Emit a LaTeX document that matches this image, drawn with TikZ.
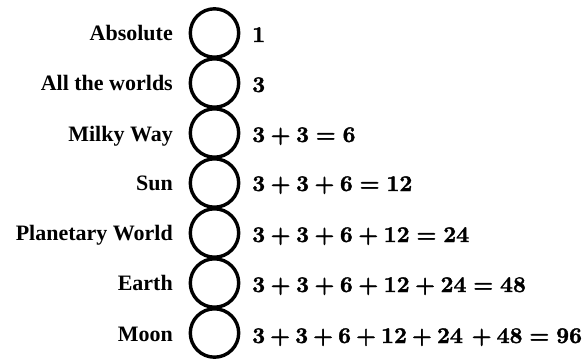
\documentclass[tikz,border=0pt]{standalone}
\usepackage{fontspec}
\setmainfont{Latin Modern Roman}
\newfontfamily\labelfont{Liberation Serif}
\newfontfamily\numfont{lmroman10-bold.otf}[FakeBold=1.6]
\newcommand{\opplus}[1][0.24em]{\hspace{#1}+\hspace{#1}}
\newcommand{\opeq}{\hspace{0.3em}=\hspace{0.3em}}
\begin{document}
\begin{tikzpicture}[x=1pt,y=-1pt,
  ring/.style={circle,draw=black,line width=3.4pt,minimum size=48.4pt,inner sep=0pt},
  lbl/.style={anchor=base east,inner sep=0pt,font=\fontsize{22}{26}\selectfont\labelfont\bfseries},
  num/.style={anchor=base west,inner sep=0pt,font=\numfont\fontsize{22.5}{26}\selectfont}]
\useasboundingbox (0,0) rectangle (587,360);
\foreach \i/\yy in {1/33,2/83,3/133,4/183,5/233,6/283,7/333}{
  \node[ring] (c\i) at (214.5,\yy) {};
}
\node[lbl] (l1) at (173,40.5) {Absolute};
\node[lbl] (l2) at (173,90.5) {All the worlds};
\node[lbl] (l3) at (173,141.5) {Milky Way};
\node[lbl] (l4) at (173,190.5) {Sun};
\node[lbl] (l5) at (173,240.5) {Planetary World};
\node[lbl] (l6) at (173,290.5) {Earth};
\node[lbl] (l7) at (173,341) {Moon};
\node[num] (n1) at (252,42) {1};
\node[num] (n2) at (252,92) {3};
\node[num] (n3) at (252,142) {3\opplus 3\opeq 6};
\node[num] (n4) at (252,191) {3\opplus 3\opplus 6\opeq 12};
\node[num] (n5) at (252,242) {3\opplus 3\opplus 6\opplus 12\opeq 24};
\node[num] (n6) at (252,292) {3\opplus 3\opplus 6\opplus 12\opplus 24\opeq 48};
\node[num] (n7) at (252,343) {3\opplus[0.22em]3\opplus[0.22em]6\opplus[0.22em]12\opplus[0.22em]24\hspace{0.17em}\opplus[0.22em]48\opeq 96};
\end{tikzpicture}
\end{document}
